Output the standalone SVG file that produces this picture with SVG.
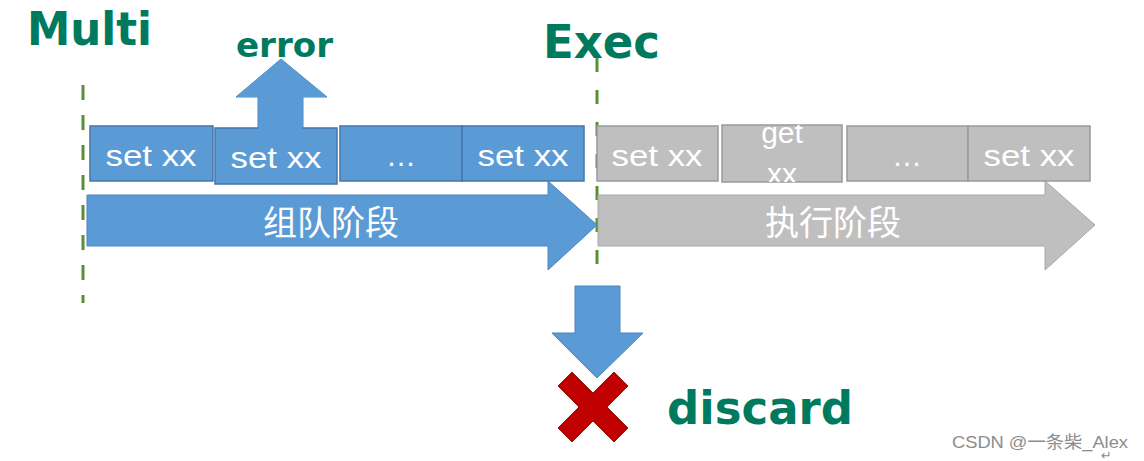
<svg xmlns="http://www.w3.org/2000/svg" width="1144" height="461" viewBox="0 0 1144 461">
<style>
.title{font-family:"DejaVu Sans","Liberation Sans",sans-serif;font-weight:bold;fill:#007a5e}
.cmd{font-family:"Liberation Sans",Arial,sans-serif;font-size:30px;fill:#ffffff;text-anchor:middle}
.phase{font-family:"Noto Sans CJK SC","Liberation Sans",sans-serif;font-size:34px;fill:#ffffff;text-anchor:middle}
.bbox{fill:#5b9bd5;stroke:#4477aa;stroke-width:1.5}
.gbox{fill:#bfbfbf;stroke:#9a9a9a;stroke-width:1.5}
.dash{stroke:#5a8f3a;stroke-width:3;stroke-dasharray:15 15;fill:none}
.barrow{fill:#5b9bd5;stroke:#4a86c0;stroke-width:1}
.garrow{fill:#bfbfbf;stroke:#a8a8a8;stroke-width:1}
</style>
<defs>
<clipPath id="clipGet"><rect x="722" y="125" width="120" height="57"/></clipPath>
</defs>
<rect width="1144" height="461" fill="#ffffff"/>

<g id="labels">
<text class="title" x="27" y="45" font-size="46" textLength="125" lengthAdjust="spacingAndGlyphs">Multi</text>
<text class="title" x="543" y="58" font-size="46" textLength="117" lengthAdjust="spacingAndGlyphs">Exec</text>
<text class="title" x="236" y="57" font-size="34" textLength="97" lengthAdjust="spacingAndGlyphs">error</text>
<text class="title" x="667" y="424" font-size="46" textLength="186" lengthAdjust="spacingAndGlyphs">discard</text>
</g>

<g id="connectors">
<line class="dash" x1="83" y1="85" x2="83" y2="303"/>
<line class="dash" x1="597" y1="58" x2="597" y2="276" style="stroke-dasharray:14 18"/>
<polygon id="error-arrow" class="barrow" points="258,132 258,97 236,97 281,59 327,97 303,97 303,132"/>
<polygon id="discard-arrow" class="barrow" points="575,286 620,286 620,333 643,333 597,378 552,333 575,333"/>
</g>

<g id="phase-queue">
<polygon class="barrow" points="87,195 548,195 548,181 597,225 548,270 548,246 87,246"/>
<text class="phase" x="331" y="235">组队阶段</text>
</g>

<g id="phase-exec">
<polygon class="garrow" points="598,195 1045,195 1045,181 1095,225 1045,270 1045,246 598,246"/>
<text class="phase" x="833" y="235">执行阶段</text>
</g>

<g id="queue-cmd1"><rect class="bbox" x="90" y="126" width="123" height="55"/><text class="cmd" x="151" y="166" textLength="91" lengthAdjust="spacingAndGlyphs">set xx</text></g>
<g id="queue-cmd3"><rect class="bbox" x="340" y="126" width="122" height="55"/><text class="cmd" x="401" y="166">…</text></g>
<g id="queue-cmd4"><rect class="bbox" x="462" y="126" width="122" height="55"/><text class="cmd" x="523" y="166" textLength="91" lengthAdjust="spacingAndGlyphs">set xx</text></g>
<g id="queue-cmd2"><rect class="bbox" x="215" y="128" width="122" height="56"/><text class="cmd" x="276" y="168" textLength="91" lengthAdjust="spacingAndGlyphs">set xx</text></g>
<polygon class="barrow" points="258.5,140 258.5,97 236,97 281,59 327,97 302.5,97 302.5,140" style="stroke:none"/>

<g id="exec-cmd1"><rect class="gbox" x="597" y="126" width="121" height="55"/><text class="cmd" x="657" y="166" textLength="91" lengthAdjust="spacingAndGlyphs">set xx</text></g>
<g id="exec-cmd2"><rect class="gbox" x="722" y="125" width="120" height="57"/>
<g clip-path="url(#clipGet)"><text class="cmd" x="782" y="143" font-size="28">get</text><text class="cmd" x="782" y="184" font-size="28">xx</text></g></g>
<g id="exec-cmd3"><rect class="gbox" x="847" y="126" width="121" height="55"/><text class="cmd" x="907" y="166">…</text></g>
<g id="exec-cmd4"><rect class="gbox" x="968" y="126" width="122" height="55"/><text class="cmd" x="1029" y="166" textLength="91" lengthAdjust="spacingAndGlyphs">set xx</text></g>

<g id="discard-x">
<path d="M572,372 L593,393 L614,372 L628,386 L607,407 L628,428 L614,442 L593,421 L572,442 L558,428 L579,407 L558,386 Z" fill="#c00000" stroke="#8a1a10" stroke-width="1"/>
</g>

<g id="watermark">
<text x="952" y="448" font-family="'Liberation Sans','Noto Sans CJK SC',sans-serif" font-size="17" fill="#8c8c8c" textLength="176" lengthAdjust="spacingAndGlyphs">CSDN @一条柴_Alex</text>
<text x="1101" y="460" font-family="'DejaVu Sans',sans-serif" font-size="13" fill="#8c8c8c">↵</text>
</g>
</svg>
